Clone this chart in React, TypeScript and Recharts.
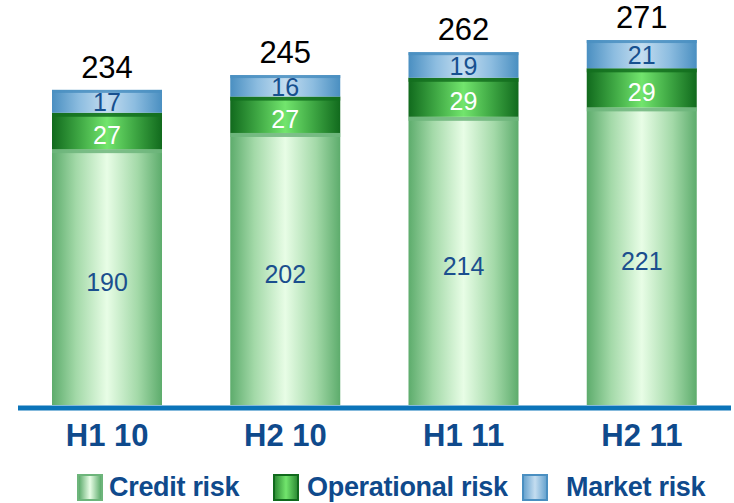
import { BarChart, Bar, XAxis, YAxis, LabelList } from "recharts";

const categories = ["H1 10", "H2 10", "H1 11", "H2 11"];
const creditRisk = [190, 202, 214, 221];
const operationalRisk = [27, 27, 29, 29];
const marketRisk = [17, 16, 19, 21];
const totals = [234, 245, 262, 271];

const data = categories.map((name, i) => ({
  name,
  credit: creditRisk[i],
  operational: operationalRisk[i],
  market: marketRisk[i],
  total: totals[i],
}));

const FONT = "'Liberation Sans', Arial, sans-serif";
const NAVY = "#0f4a8c";

// cylinder look: horizontal gradient + flat strip on top of each segment
function makeShape(gradId: string, top: string, strip: number) {
  return (props: any) => {
    const { x, y, width, height } = props;
    if (!height || height <= 0) return null;
    return (
      <g>
        <rect x={x} y={y} width={width} height={height} fill={`url(#${gradId})`} />
        <rect x={x} y={y} width={width} height={Math.min(strip, height)} fill={top} opacity={0.85} />
      </g>
    );
  };
}

const CreditShape = makeShape("gCredit", "#6db57b", 4);
const OpShape = makeShape("gOp", "#136e1f", 4);
const MarketShape = makeShape("gMarket", "#4a8fc1", 3);

function CatTick({ x, y, payload }: any) {
  return (
    <text x={x} y={y + 41} textAnchor="middle" fontSize={31} fontWeight={700} fill={NAVY} fontFamily={FONT}>
      {payload.value}
    </text>
  );
}

function LegendItem({ left, label, bg, border, textLeft }: { left: number; label: string; bg: string; border: string; textLeft: number }) {
  return (
    <>
      <div style={{ position: "absolute", left, top: 474, width: 22, height: 23, background: bg, border: `2px solid ${border}` }} />
      <div style={{ position: "absolute", left: textLeft, top: 472, fontSize: 27, fontWeight: 700, color: NAVY, fontFamily: FONT, whiteSpace: "nowrap", lineHeight: "30px", letterSpacing: -0.3 }}>
        {label}
      </div>
    </>
  );
}

export default function App() {
  return (
    <div style={{ position: "absolute", left: 0, top: 0, width: 734, height: 503, background: "#fff", overflow: "hidden" }}>
      <BarChart width={734} height={503} data={data} margin={{ top: 1, right: 3, left: 18, bottom: 58 }} barSize={110}>
        <defs>
          <linearGradient id="gCredit" x1="0" y1="0" x2="1" y2="0">
            <stop offset="0%" stopColor="#5dac6c" />
            <stop offset="22%" stopColor="#a3d9a8" />
            <stop offset="50%" stopColor="#e8fde6" />
            <stop offset="78%" stopColor="#a3d9a8" />
            <stop offset="100%" stopColor="#5dac6c" />
          </linearGradient>
          <linearGradient id="gOp" x1="0" y1="0" x2="1" y2="0">
            <stop offset="0%" stopColor="#116a1d" />
            <stop offset="25%" stopColor="#3fa844" />
            <stop offset="50%" stopColor="#72e56d" />
            <stop offset="75%" stopColor="#3fa844" />
            <stop offset="100%" stopColor="#116a1d" />
          </linearGradient>
          <linearGradient id="gMarket" x1="0" y1="0" x2="1" y2="0">
            <stop offset="0%" stopColor="#4a8fc1" />
            <stop offset="25%" stopColor="#8dbde0" />
            <stop offset="50%" stopColor="#c4ddf0" />
            <stop offset="75%" stopColor="#8dbde0" />
            <stop offset="100%" stopColor="#4a8fc1" />
          </linearGradient>
        </defs>
        <XAxis
          dataKey="name"
          height={40}
          tickLine={false}
          tickSize={0}
          tickMargin={0}
          interval={0}
          tick={<CatTick />}
          axisLine={{ stroke: "#0b74b9", strokeWidth: 5, transform: "translate(0 3)" }}
        />
        <YAxis hide domain={[0, 300]} />
        <Bar dataKey="credit" stackId="a" shape={CreditShape} isAnimationActive={false}>
          <LabelList dataKey="credit" position="center" fill="#1b4f8e" fontSize={25} fontFamily={FONT} dy={5} />
        </Bar>
        <Bar dataKey="operational" stackId="a" shape={OpShape} isAnimationActive={false}>
          <LabelList dataKey="operational" position="center" fill="#ffffff" fontSize={25} fontFamily={FONT} dy={4} />
        </Bar>
        <Bar dataKey="market" stackId="a" shape={MarketShape} isAnimationActive={false}>
          <LabelList dataKey="market" position="center" fill="#17508f" fontSize={25} fontFamily={FONT} dy={1} />
          <LabelList dataKey="total" position="top" offset={12} fill="#000000" fontSize={31} fontFamily={FONT} />
        </Bar>
      </BarChart>
      <LegendItem left={77} textLeft={109} label="Credit risk" bg="linear-gradient(90deg,#5dac6c,#e8fde6 50%,#5dac6c)" border="#6db57b" />
      <LegendItem left={273} textLeft={307} label="Operational risk" bg="linear-gradient(90deg,#2f8e36,#72e56d 50%,#2f8e36)" border="#116a1d" />
      <LegendItem left={522} textLeft={566} label="Market risk" bg="linear-gradient(90deg,#6aa5d0,#c4ddf0 50%,#6aa5d0)" border="#4a8fc1" />
    </div>
  );
}
